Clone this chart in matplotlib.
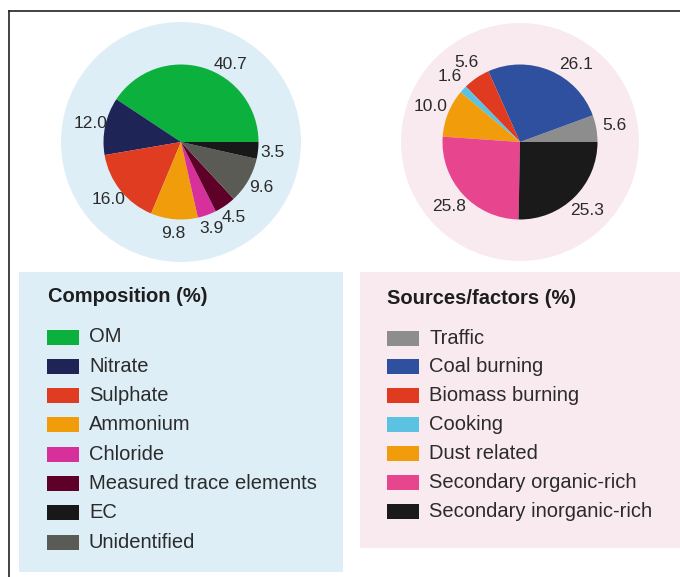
import numpy as np
import matplotlib
matplotlib.use('Agg')
import matplotlib.pyplot as plt
from matplotlib.patches import Circle, Rectangle
from matplotlib.lines import Line2D

plt.rcParams['font.family'] = ['Liberation Sans', 'DejaVu Sans']

# ---------------- data ----------------
comp_labels = ['OM', 'Nitrate', 'Sulphate', 'Ammonium', 'Chloride',
               'Measured trace elements', 'Unidentified', 'EC']          # pie order
comp_values = [40.7, 12.0, 16.0, 9.8, 3.9, 4.5, 9.6, 3.5]
comp_legend = ['OM', 'Nitrate', 'Sulphate', 'Ammonium', 'Chloride',
               'Measured trace elements', 'EC', 'Unidentified']          # legend order

src_labels = ['Traffic', 'Coal burning', 'Biomass burning', 'Cooking',
              'Dust related', 'Secondary organic-rich', 'Secondary inorganic-rich']
src_values = [5.6, 26.1, 5.6, 1.6, 10.0, 25.8, 25.3]

# ---------------- styles ----------------
comp_colors = {
    'OM': '#0cb03c', 'Nitrate': '#1f2456', 'Sulphate': '#e03c22',
    'Ammonium': '#f09c0b', 'Chloride': '#d8309a',
    'Measured trace elements': '#5e0027', 'EC': '#181818',
    'Unidentified': '#5b5b56',
}
src_colors = {
    'Traffic': '#8d8d8d', 'Coal burning': '#2f509f', 'Biomass burning': '#e03a21',
    'Cooking': '#5bc2e2', 'Dust related': '#f09c0b',
    'Secondary organic-rich': '#e8458f', 'Secondary inorganic-rich': '#1a1a1a',
}
# angular nudges (degrees) for a few value labels, as placed in the original
comp_label_nudge = {'OM': -16.0}
src_label_nudge = {'Coal burning': -13.0}

BLUE_BG = '#ddeef7'
PINK_BG = '#f9eaf0'
TXT = '#2b2b2b'

W, H = 680, 577
fig = plt.figure(figsize=(W / 100, H / 100), dpi=100)
fig.patch.set_facecolor('white')


def fx(x):
    return x / W


def fy(y):
    return 1 - y / H


R_PX = 77.5


def pie_axes(cx, cy, half=135):
    ax = fig.add_axes([fx(cx - half), fy(cy + half), 2 * half / W, 2 * half / H])
    return ax, half / R_PX


def draw_pie(cx, cy, bg_r_px, values, labels, colors, bg, labdist, nudge):
    ax, lim = pie_axes(cx, cy)
    ax.add_patch(Circle((0, 0), bg_r_px / R_PX, color=bg, zorder=0, lw=0))
    wedges, texts = ax.pie(values, colors=[colors[l] for l in labels], startangle=0,
                           counterclock=True, radius=1.0,
                           labels=[f'{v:.1f}' for v in values], labeldistance=labdist,
                           textprops=dict(fontsize=12.5, ha='center', va='center',
                                          color=TXT),
                           wedgeprops=dict(linewidth=0))
    for w, t, name in zip(wedges, texts, labels):
        if name in nudge:
            ang = np.deg2rad((w.theta1 + w.theta2) / 2 + nudge[name])
            t.set_position((labdist * np.cos(ang), labdist * np.sin(ang)))
    ax.set_xlim(-lim, lim)
    ax.set_ylim(-lim, lim)
    ax.set_aspect('equal')
    ax.axis('off')


draw_pie(181, 142, 120, comp_values, comp_labels, comp_colors, BLUE_BG, 1.19,
         comp_label_nudge)
draw_pie(520, 142, 119, src_values, src_labels, src_colors, PINK_BG, 1.24,
         src_label_nudge)

# frame lines
fig.add_artist(Line2D([fx(9), 1], [fy(11), fy(11)], transform=fig.transFigure,
                      color='#222222', lw=1.2))
fig.add_artist(Line2D([fx(9), fx(9)], [fy(11), 0], transform=fig.transFigure,
                      color='#222222', lw=1.2))

# legend boxes
fig.add_artist(Rectangle((fx(19), fy(572)), (343 - 19) / W, (572 - 272) / H,
                         transform=fig.transFigure, color=BLUE_BG, lw=0, zorder=0))
fig.add_artist(Rectangle((fx(360), fy(548)), (680 - 360) / W, (548 - 272) / H,
                         transform=fig.transFigure, color=PINK_BG, lw=0, zorder=0))


def draw_legend(title, tx, ty, names, colors, sx, y0, dy):
    fig.text(fx(tx), fy(ty), title, fontsize=14.5, fontweight='bold',
             va='center', ha='left', color='#1e1e1e')
    for i, n in enumerate(names):
        y = y0 + i * dy
        fig.add_artist(Rectangle((fx(sx), fy(y + 7.5)), 32 / W, 15 / H,
                                 transform=fig.transFigure, color=colors[n], lw=0))
        fig.text(fx(sx + 42), fy(y), n, fontsize=14.5, va='center', ha='left',
                 color=TXT)


draw_legend('Composition (%)', 48, 297, comp_legend, comp_colors, 47, 337, 29.3)
draw_legend('Sources/factors (%)', 387, 299, src_labels, src_colors, 387, 338, 28.9)

fig.savefig('out.png', dpi=100)
